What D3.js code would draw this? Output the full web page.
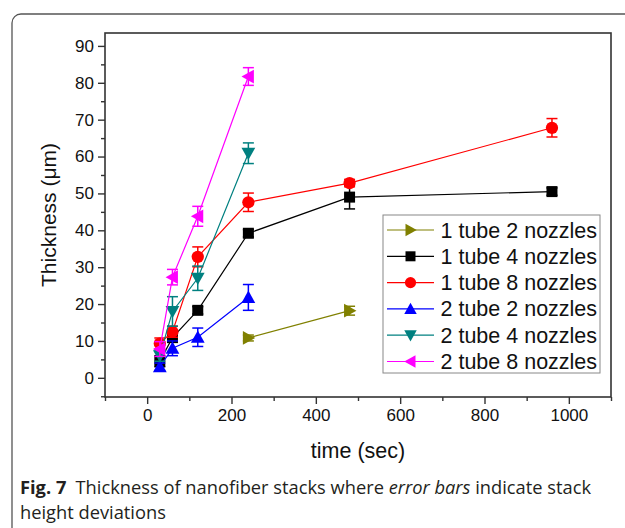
<!DOCTYPE html>
<html>
<head>
<meta charset="utf-8">
<script src="https://cdn.jsdelivr.net/npm/d3@7"></script>
<style>
  body { margin: 0; background: #fff; }
  svg { display: block; }
</style>
</head>
<body>
<svg id="chart" width="625" height="528"></svg>
<script>
// data: time (sec), thickness (um), deviation
const seriesNames = ["1 tube 2 nozzles", "1 tube 4 nozzles", "1 tube 8 nozzles",
  "2 tube 2 nozzles", "2 tube 4 nozzles", "2 tube 8 nozzles"];
const seriesColors = ["#808000", "#000000", "#ff0000", "#0000ff", "#008080", "#ff00ff"];
const seriesMarkers = ["right", "square", "circle", "up", "down", "left"];

const t1n2Time = [240, 480];
const t1n2Value = [10.8, 18.2];
const t1n2Err = [0.8, 1.2];

const t1n4Time = [30, 60, 120, 240, 480, 960];
const t1n4Value = [4.5, 10.9, 18.3, 39.2, 49.0, 50.5];
const t1n4Err = [1.5, 1.0, 1.0, 1.0, 3.2, 1.0];

const t1n8Time = [30, 60, 120, 240, 480, 960];
const t1n8Value = [9.3, 12.5, 32.8, 47.6, 52.8, 67.8];
const t1n8Err = [1.5, 1.5, 2.7, 2.5, 1.0, 2.5];

const t2n2Time = [30, 60, 120, 240];
const t2n2Value = [3.0, 8.0, 11.0, 21.8];
const t2n2Err = [1.0, 2.0, 2.5, 3.5];

const t2n4Time = [30, 60, 120, 240];
const t2n4Value = [6.0, 18.0, 27.0, 60.9];
const t2n4Err = [1.5, 4.0, 3.3, 2.8];

const t2n8Time = [30, 60, 120, 240];
const t2n8Value = [7.8, 27.3, 43.8, 81.7];
const t2n8Err = [2.0, 2.1, 2.7, 2.4];

const allTimes = [t1n2Time, t1n4Time, t1n8Time, t2n2Time, t2n4Time, t2n8Time];
const allValues = [t1n2Value, t1n4Value, t1n8Value, t2n2Value, t2n4Value, t2n8Value];
const allErrs = [t1n2Err, t1n4Err, t1n8Err, t2n2Err, t2n4Err, t2n8Err];

const xTicks = [0, 200, 400, 600, 800, 1000];
const yTicks = [0, 10, 20, 30, 40, 50, 60, 70, 80, 90];

const arial = "'Liberation Sans', Arial, sans-serif";
const svg = d3.select("#chart");

// rounded outer frame of the figure panel
svg.append("rect")
  .attr("x", 12).attr("y", 14)
  .attr("width", 660).attr("height", 530)
  .attr("rx", 9)
  .attr("fill", "none")
  .attr("stroke", "#555")
  .attr("stroke-width", 1.3);

const plotLeft = 105, plotRight = 611, plotTop = 33, plotBottom = 397;
const x = d3.scaleLinear().domain([-100, 1100]).range([plotLeft, plotRight]);
const y = d3.scaleLinear().domain([-5.2, 93.5]).range([plotBottom, plotTop]);

// frame of plot
svg.append("rect")
  .attr("x", plotLeft).attr("y", plotTop)
  .attr("width", plotRight - plotLeft).attr("height", plotBottom - plotTop)
  .attr("fill", "none")
  .attr("stroke", "#333")
  .attr("stroke-width", 1.6);

svg.append("g")
  .attr("transform", "translate(0," + plotBottom + ")")
  .call(d3.axisBottom(x).tickValues(xTicks).tickFormat(d3.format("d"))
    .tickSize(7).tickPadding(5).tickSizeOuter(0));
svg.append("g")
  .attr("transform", "translate(0," + plotBottom + ")")
  .call(d3.axisBottom(x).tickValues(d3.range(-100, 1101, 200)).tickSize(4).tickFormat("").tickSizeOuter(0));

svg.append("g")
  .attr("transform", "translate(" + plotLeft + ",0)")
  .call(d3.axisLeft(y).tickValues(yTicks).tickSize(7).tickPadding(4).tickSizeOuter(0));
svg.append("g")
  .attr("transform", "translate(" + plotLeft + ",0)")
  .call(d3.axisLeft(y).tickValues(d3.range(-5, 91, 10)).tickSize(4).tickFormat("").tickSizeOuter(0));

svg.selectAll(".domain").remove();
svg.selectAll(".tick line").attr("stroke", "#333").attr("stroke-width", 1.4);
svg.selectAll(".tick text")
  .attr("font-family", arial)
  .attr("font-size", "17px")
  .attr("fill", "#111");

svg.append("text")
  .attr("transform", "translate(56," + ((plotTop + plotBottom) / 2) + ") rotate(-90)")
  .attr("text-anchor", "middle")
  .attr("font-family", arial)
  .attr("font-size", "21px")
  .attr("fill", "#111")
  .text("Thickness (\u03bcm)");

svg.append("text")
  .attr("x", x(500)).attr("y", 458)
  .attr("text-anchor", "middle")
  .attr("font-family", arial)
  .attr("font-size", "21.5px")
  .attr("fill", "#111")
  .text("time (sec)");

function markerPath(kind, s) {
  if (kind === "square") return "M" + (-s) + "," + (-s) + "H" + s + "V" + s + "H" + (-s) + "Z";
  if (kind === "circle") return d3.symbol(d3.symbolCircle, Math.PI * s * s * 1.25)();
  const a = s * 1.25;
  if (kind === "up") return "M0," + (-a) + "L" + a + "," + (a * 0.8) + "L" + (-a) + "," + (a * 0.8) + "Z";
  if (kind === "down") return "M0," + a + "L" + a + "," + (-a * 0.8) + "L" + (-a) + "," + (-a * 0.8) + "Z";
  if (kind === "right") return "M" + a + ",0L" + (-a * 0.8) + "," + (-a) + "L" + (-a * 0.8) + "," + a + "Z";
  return "M" + (-a) + ",0L" + (a * 0.8) + "," + (-a) + "L" + (a * 0.8) + "," + a + "Z";
}

const line = d3.line().x(d => x(d.t)).y(d => y(d.v));

seriesNames.forEach(function (name, i) {
  const pts = allTimes[i].map((t, j) => ({ t: t, v: allValues[i][j], e: allErrs[i][j] }));
  const g = svg.append("g");
  const col = seriesColors[i];

  g.append("path")
    .datum(pts)
    .attr("d", line)
    .attr("fill", "none")
    .attr("stroke", col)
    .attr("stroke-width", 1.2);

  const eb = g.selectAll(".err").data(pts).enter().append("g");
  eb.append("line")
    .attr("x1", d => x(d.t)).attr("x2", d => x(d.t))
    .attr("y1", d => y(d.v - d.e)).attr("y2", d => y(d.v + d.e))
    .attr("stroke", col).attr("stroke-width", 1.5);
  [-1, 1].forEach(function (sgn) {
    eb.append("line")
      .attr("x1", d => x(d.t) - 5.5).attr("x2", d => x(d.t) + 5.5)
      .attr("y1", d => y(d.v + sgn * d.e)).attr("y2", d => y(d.v + sgn * d.e))
      .attr("stroke", col).attr("stroke-width", 1.5);
  });

  g.selectAll(".mk").data(pts).enter().append("path")
    .attr("transform", d => "translate(" + x(d.t) + "," + y(d.v) + ")")
    .attr("d", markerPath(seriesMarkers[i], 5.5))
    .attr("fill", col);
});

// legend
const legX = 383, legY = 215, legW = 217, legH = 158, rowH = 26.3;
svg.append("rect")
  .attr("x", legX).attr("y", legY)
  .attr("width", legW).attr("height", legH)
  .attr("fill", "#fff")
  .attr("stroke", "#888")
  .attr("stroke-width", 1);

const leg = svg.selectAll(".leg").data(seriesNames).enter().append("g")
  .attr("transform", (d, i) => "translate(" + legX + "," + (legY + 15 + i * rowH) + ")");
leg.append("line")
  .attr("x1", 4).attr("x2", 51)
  .attr("stroke", (d, i) => seriesColors[i])
  .attr("stroke-width", 1.2);
leg.append("path")
  .attr("transform", "translate(27.5,0)")
  .attr("d", (d, i) => markerPath(seriesMarkers[i], 5))
  .attr("fill", (d, i) => seriesColors[i]);
leg.append("text")
  .attr("x", 57.5).attr("y", 7.5)
  .attr("font-family", arial)
  .attr("font-size", "21.5px")
  .attr("fill", "#111")
  .text(d => d);

// caption
const capFont = "'Open Sans', 'Noto Sans', sans-serif";
const cap = svg.append("text")
  .attr("x", 20).attr("y", 494)
  .attr("font-family", capFont)
  .attr("font-size", "18.3px")
  .attr("fill", "#231f20");
cap.append("tspan").attr("font-weight", "bold").text("Fig. 7");
cap.append("tspan").text("\u2002Thickness of nanofiber stacks where ");
cap.append("tspan").attr("font-style", "italic").text("error bars");
cap.append("tspan").text(" indicate stack");
svg.append("text")
  .attr("x", 20).attr("y", 519)
  .attr("font-family", capFont)
  .attr("font-size", "18.3px")
  .attr("fill", "#231f20")
  .text("height deviations");
</script>
</body>
</html>
